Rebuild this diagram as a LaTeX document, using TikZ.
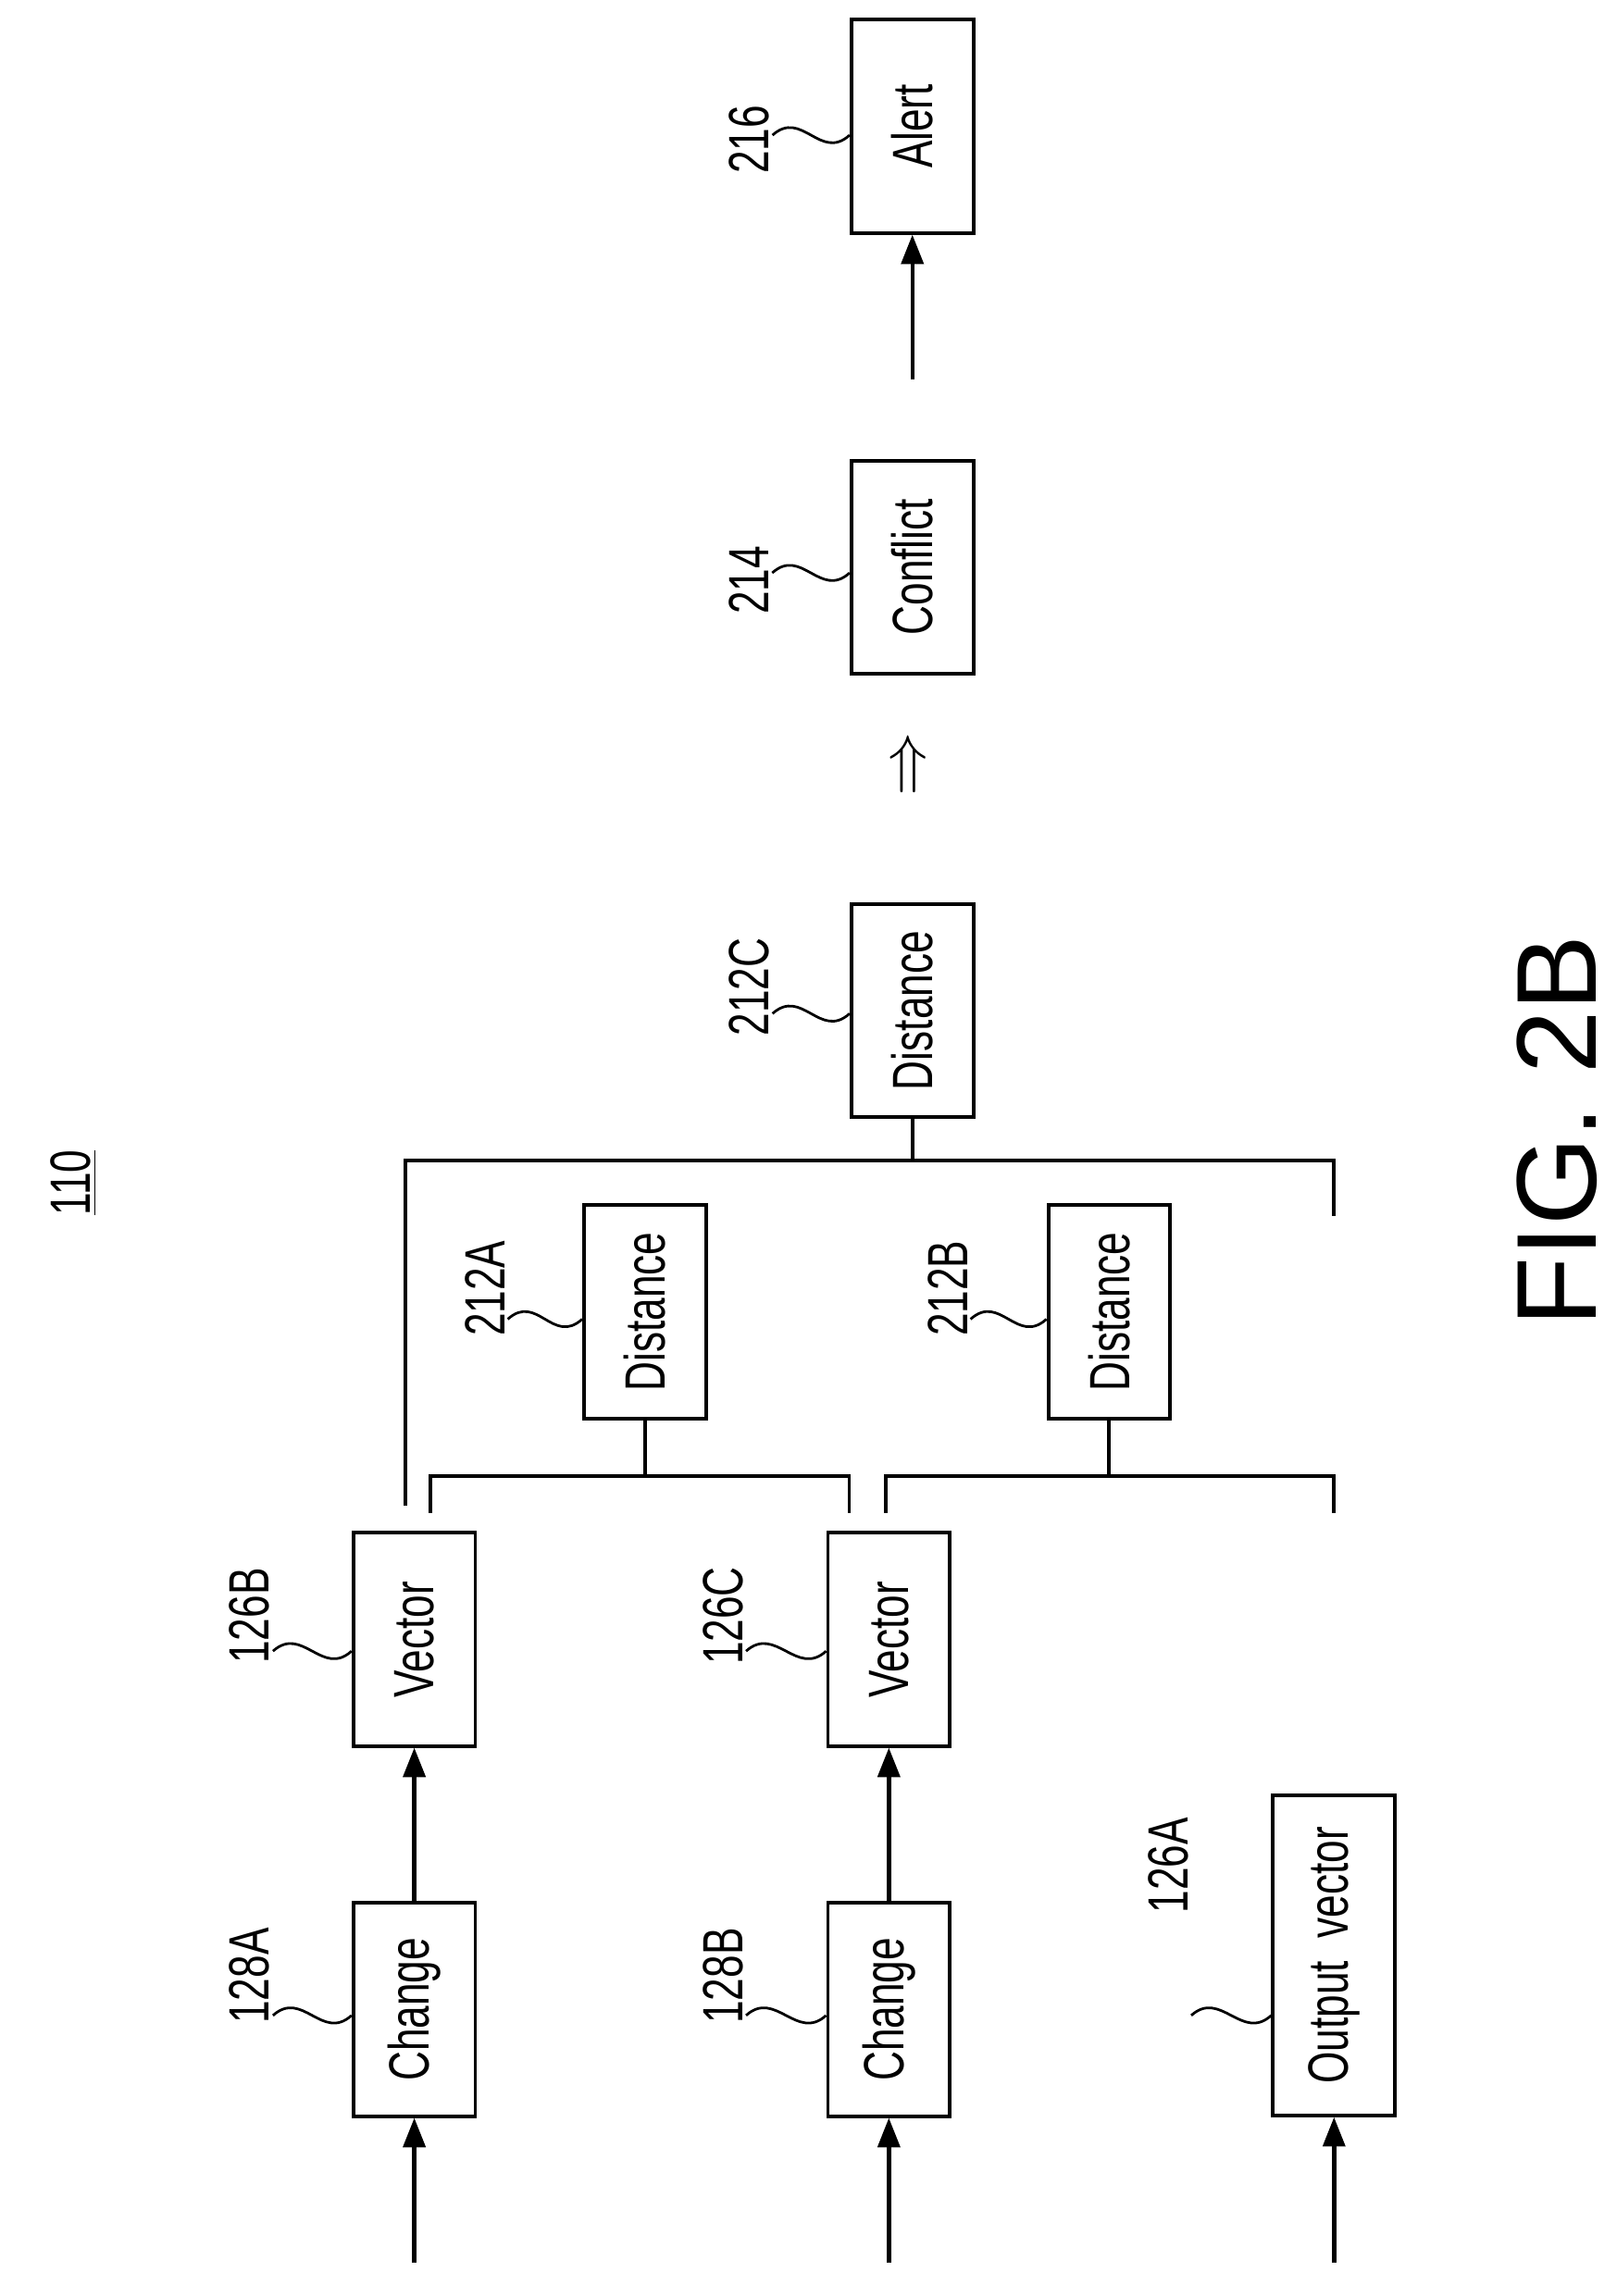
\documentclass[tikz,border=0pt]{standalone}
\usepackage{fontspec}
\setmainfont{Liberation Sans}
\usetikzlibrary{positioning,arrows.meta}
\newcommand{\cond}[1]{\scalebox{0.72}[1]{\fontsize{22}{26}\selectfont #1}}
\tikzset{
    block/.style={
        draw=black,
        line width=1.4pt,
        rectangle,
        rotate=90,
        inner sep=0pt,
        align=center,
    },
    refnum/.style={rotate=90, inner sep=1pt},
    flow/.style={line width=1.6pt, -{Triangle[length=4mm,width=3mm]}},
    wire/.style={line width=1.4pt},
    lead/.style={line width=1pt},
}
\begin{document}
\begin{tikzpicture}[x=0.02cm, y=-0.02cm]
\useasboundingbox (0,0) rectangle (1100,1563);

% blocks (width along y, height along x)
\node[block, minimum width=145*0.02cm, minimum height=83*0.02cm] (chgA) at (282,1368) {\cond{Change}};
\node[block, minimum width=145*0.02cm, minimum height=83*0.02cm] (chgB) at (605,1368) {\cond{Change}};
\node[block, minimum width=218*0.02cm, minimum height=83*0.02cm] (outA) at (908,1331) {\cond{Output\ \ vector}};
\node[block, minimum width=145*0.02cm, minimum height=83*0.02cm] (vecB) at (282,1116) {\cond{Vector}};
\node[block, minimum width=145*0.02cm, minimum height=83*0.02cm] (vecC) at (605,1116) {\cond{Vector}};
\node[block, minimum width=145*0.02cm, minimum height=83*0.02cm] (distA) at (439,893) {\cond{Distance}};
\node[block, minimum width=145*0.02cm, minimum height=83*0.02cm] (distB) at (755,893) {\cond{Distance}};
\node[block, minimum width=145*0.02cm, minimum height=83*0.02cm] (distC) at (621,688) {\cond{Distance}};
\node[block, minimum width=145*0.02cm, minimum height=83*0.02cm] (confl) at (621,386) {\cond{Conflict}};
\node[block, minimum width=145*0.02cm, minimum height=83*0.02cm] (alert) at (621,86) {\cond{Alert}};

% reference numerals
\node[refnum] (nA) at (170,1345) {\cond{128A}};
\node[refnum] (nB) at (492,1345) {\cond{128B}};
\node[refnum] (nC) at (795,1270) {\cond{126A}};
\node[refnum] (nD) at (170,1100) {\cond{126B}};
\node[refnum] (nE) at (492,1100) {\cond{126C}};
\node[refnum] (nF) at (330,877) {\cond{212A}};
\node[refnum] (nG) at (645,877) {\cond{212B}};
\node[refnum] (nH) at (510,672) {\cond{212C}};
\node[refnum] (nI) at (510,395) {\cond{214}};
\node[refnum] (nJ) at (510,95) {\cond{216}};
\node[refnum] (top) at (50,805) {\cond{\underline{110}}};
\node[refnum] (fig) at (1060,770) {\fontsize{44}{50}\selectfont FIG. 2B};
\node[refnum] (impl) at (621,520) {\fontsize{24}{28}\selectfont $\Rightarrow$};

% leaders
\foreach \n/\b/\y in {nA/chgA/1372, nB/chgB/1372, nC/outA/1372, nD/vecB/1124, nE/vecC/1124, nF/distA/898, nG/distB/898, nH/distC/690, nI/confl/390, nJ/alert/92}{
  \draw[lead] (\n.south |- 0,\y) .. controls +(20,-18) and +(-20,18) .. (\b.north |- 0,\y);
}

% input arrows
\coordinate (inA) at (282,1540);
\coordinate (inB) at (605,1540);
\coordinate (inC) at (908,1540);
\coordinate (fromC) at (621,258);
\draw[flow] (inA) -- (chgA.west);
\draw[flow] (inB) -- (chgB.west);
\draw[flow] (inC) -- (outA.west);
\draw[flow] (chgA.east) -- (vecB.west);
\draw[flow] (chgB.east) -- (vecC.west);
\draw[flow] (fromC) -- (alert.west);

% brackets
\draw[wire] (293,1030) -- (293,1005) -- (578,1005) -- (578,1030);
\draw[wire] (distA.west) -- (distA.west |- 0,1005);
\draw[wire] (603,1030) -- (603,1005) -- (908,1005) -- (908,1030);
\draw[wire] (distB.west) -- (distB.west |- 0,1005);
\draw[wire] (276,1025) -- (276,790) -- (908,790) -- (908,828);
\draw[wire] (distC.west) -- (distC.west |- 0,790);
\end{tikzpicture}
\end{document}
